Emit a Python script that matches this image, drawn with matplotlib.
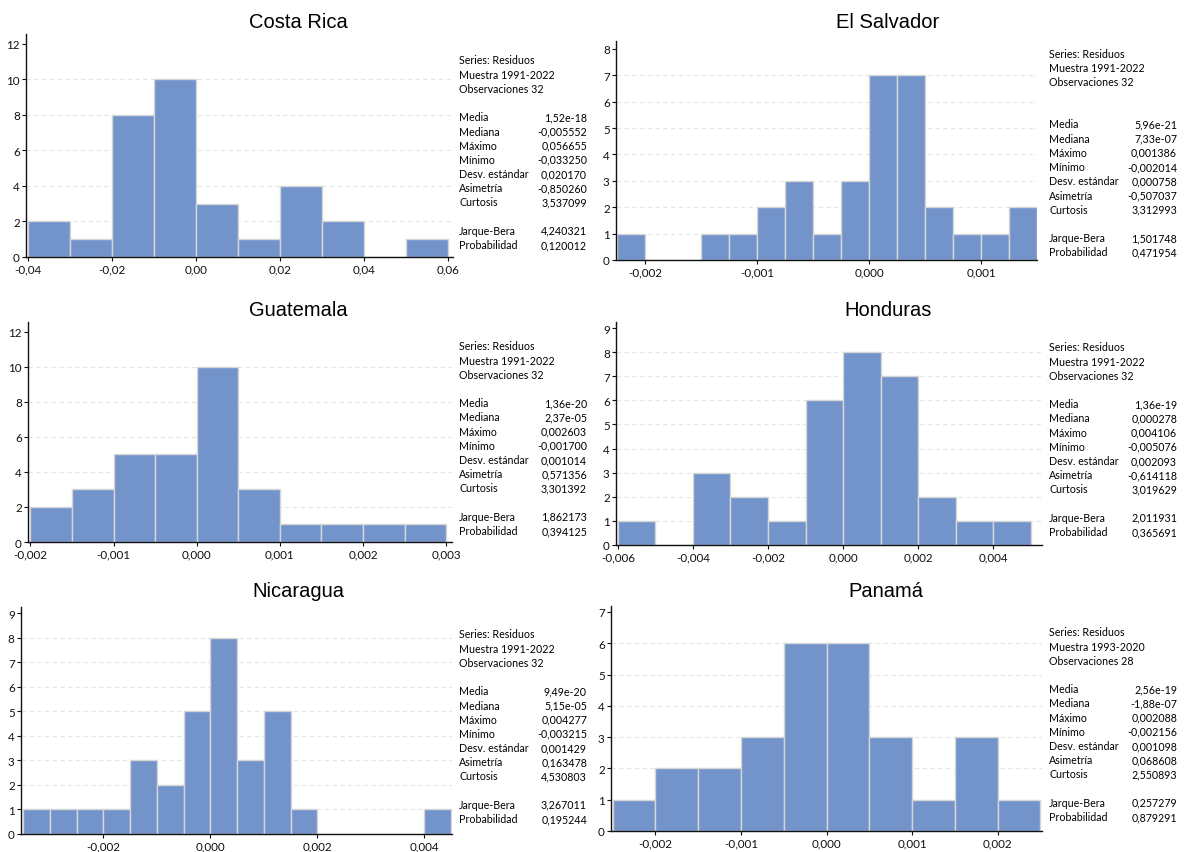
import matplotlib.pyplot as plt
from matplotlib.ticker import FuncFormatter
import numpy as np

W, H = 1185, 853

countries = ["Costa Rica", "El Salvador", "Guatemala", "Honduras", "Nicaragua", "Panamá"]

# histogram bins (first edge, width) and counts
bin_start = [-0.04, -0.00225, -0.002, -0.006, -0.0035, -0.0025]
bin_width = [0.01, 0.00025, 0.0005, 0.001, 0.0005, 0.0005]
counts_cr = [2, 1, 8, 10, 3, 1, 4, 2, 0, 1]
counts_sv = [1, 0, 0, 1, 1, 2, 3, 1, 3, 7, 7, 2, 1, 1, 2]
counts_gt = [2, 3, 5, 5, 10, 3, 1, 1, 1, 1]
counts_hn = [1, 0, 3, 2, 1, 6, 8, 7, 2, 1, 1]
counts_ni = [1, 1, 1, 1, 3, 2, 5, 8, 3, 5, 1, 0, 0, 0, 0, 1]
counts_pa = [1, 2, 2, 3, 6, 6, 3, 1, 3, 1]
all_counts = [counts_cr, counts_sv, counts_gt, counts_hn, counts_ni, counts_pa]

# descriptive statistics
samples = ["1991-2022", "1991-2022", "1991-2022", "1991-2022", "1991-2022", "1993-2020"]
n_obs = [32, 32, 32, 32, 32, 28]
stat_labels = ["Media", "Mediana", "Máximo", "Mínimo", "Desv. estándar", "Asimetría", "Curtosis"]
stats_cr = ["1,52e-18", "-0,005552", "0,056655", "-0,033250", "0,020170", "-0,850260", "3,537099"]
stats_sv = ["5,96e-21", "7,33e-07", "0,001386", "-0,002014", "0,000758", "-0,507037", "3,312993"]
stats_gt = ["1,36e-20", "2,37e-05", "0,002603", "-0,001700", "0,001014", "0,571356", "3,301392"]
stats_hn = ["1,36e-19", "0,000278", "0,004106", "-0,005076", "0,002093", "-0,614118", "3,019629"]
stats_ni = ["9,49e-20", "5,15e-05", "0,004277", "-0,003215", "0,001429", "0,163478", "4,530803"]
stats_pa = ["2,56e-19", "-1,88e-07", "0,002088", "-0,002156", "0,001098", "0,068608", "2,550893"]
all_stats = [stats_cr, stats_sv, stats_gt, stats_hn, stats_ni, stats_pa]
jarque_bera = ["4,240321", "1,501748", "1,862173", "2,011931", "3,267011", "0,257279"]
probabilidad = ["0,120012", "0,471954", "0,394125", "0,365691", "0,195244", "0,879291"]

# layout in pixels: axes (left, top, right, bottom), limits, ticks
boxes = [(26, 35, 453, 258), (616, 42, 1037, 261),
         (28, 323, 452, 543), (616, 323, 1042, 546),
         (21, 608, 452, 835), (611, 607, 1042, 832)]
xlims = [(-0.0405, 0.0612), (-0.00226, 0.0015), (-0.00203, 0.00307),
         (-0.00605, 0.0053), (-0.00354, 0.00452), (-0.00252, 0.00252)]
xticks = [np.arange(-0.04, 0.061, 0.02), np.arange(-0.002, 0.0011, 0.001),
          np.arange(-0.002, 0.0031, 0.001), np.arange(-0.006, 0.0041, 0.002),
          np.arange(-0.002, 0.0041, 0.002), np.arange(-0.002, 0.0021, 0.001)]
xdec = [2, 3, 3, 3, 3, 3]
ytop = [12.56, 8.3, 12.57, 9.25, 9.25, 7.19]
ymax_tick = [12, 8, 12, 9, 9, 7]
ystep = [2, 1, 2, 1, 1, 1]
title_pos = [(298, 22), (888, 22), (298, 310), (888, 310), (298, 592), (886, 592)]
text_left = [459, 1049, 459, 1049, 459, 1049]
text_right = [587, 1177, 587, 1177, 587, 1177]
text_top = [61, 54, 347, 348, 635, 633]
extra_gap = [0, 1, 0, 0, 0, 0]

bar_color = "#7393cb"
edge_color = "#d6d6d6"
small_font = "Lato"
line_h = 14.2

fig = plt.figure(figsize=(W / 100, H / 100), dpi=100)


def fx(px):
    return px / W


def fy(py):
    return 1 - py / H


for i, name in enumerate(countries):
    l, t, r, b = boxes[i]
    ax = fig.add_axes([fx(l), fy(b), (r - l) / W, (b - t) / H])
    c = all_counts[i]
    edges = bin_start[i] + bin_width[i] * np.arange(len(c))
    ax.bar(edges, c, width=bin_width[i], align="edge", color=bar_color,
           edgecolor=edge_color, linewidth=1.0, zorder=2)

    yt = np.arange(0, ymax_tick[i] + 1, ystep[i])
    for y in yt[1:-1]:
        ax.axhline(y, color="#e4e4e4", lw=0.8, ls=(0, (4, 3)), zorder=0)

    ax.set_xlim(*xlims[i])
    ax.set_ylim(0, ytop[i])
    ax.set_yticks(yt)
    ax.set_xticks(xticks[i])
    d = xdec[i]
    ax.xaxis.set_major_formatter(FuncFormatter(
        lambda v, p, d=d: f"{0.0 if abs(v) < 1e-12 else v:.{d}f}".replace(".", ",")))
    for s in ["top", "right"]:
        ax.spines[s].set_visible(False)
    for s in ["left", "bottom"]:
        ax.spines[s].set_linewidth(1.0)
        ax.spines[s].set_color("#111111")
    ax.tick_params(length=3, width=0.8, pad=1.5, labelsize=8.4, colors="#111111")
    for lab in ax.get_xticklabels() + ax.get_yticklabels():
        lab.set_fontfamily(small_font)

    tx, ty = title_pos[i]
    fig.text(fx(tx), fy(ty), name, ha="center", va="center",
             fontsize=14.5, family="Liberation Sans")

    # statistics block
    y0 = text_top[i]
    header = ["Series: Residuos", "Muestra " + samples[i], f"Observaciones {n_obs[i]}"]
    for k, s in enumerate(header):
        fig.text(fx(text_left[i]), fy(y0 + k * line_h), s, ha="left", va="center",
                 fontsize=7.7, family=small_font)
    row = 4 + extra_gap[i]
    for lab, val in zip(stat_labels, all_stats[i]):
        yy = fy(y0 + row * line_h)
        fig.text(fx(text_left[i]), yy, lab, ha="left", va="center", fontsize=7.7, family=small_font)
        fig.text(fx(text_right[i]), yy, val, ha="right", va="center", fontsize=7.7, family=small_font)
        row += 1
    row += 1
    for lab, val in zip(["Jarque-Bera", "Probabilidad"], [jarque_bera[i], probabilidad[i]]):
        yy = fy(y0 + row * line_h)
        fig.text(fx(text_left[i]), yy, lab, ha="left", va="center", fontsize=7.7, family=small_font)
        fig.text(fx(text_right[i]), yy, val, ha="right", va="center", fontsize=7.7, family=small_font)
        row += 1

fig.savefig("out.png", dpi=100)
